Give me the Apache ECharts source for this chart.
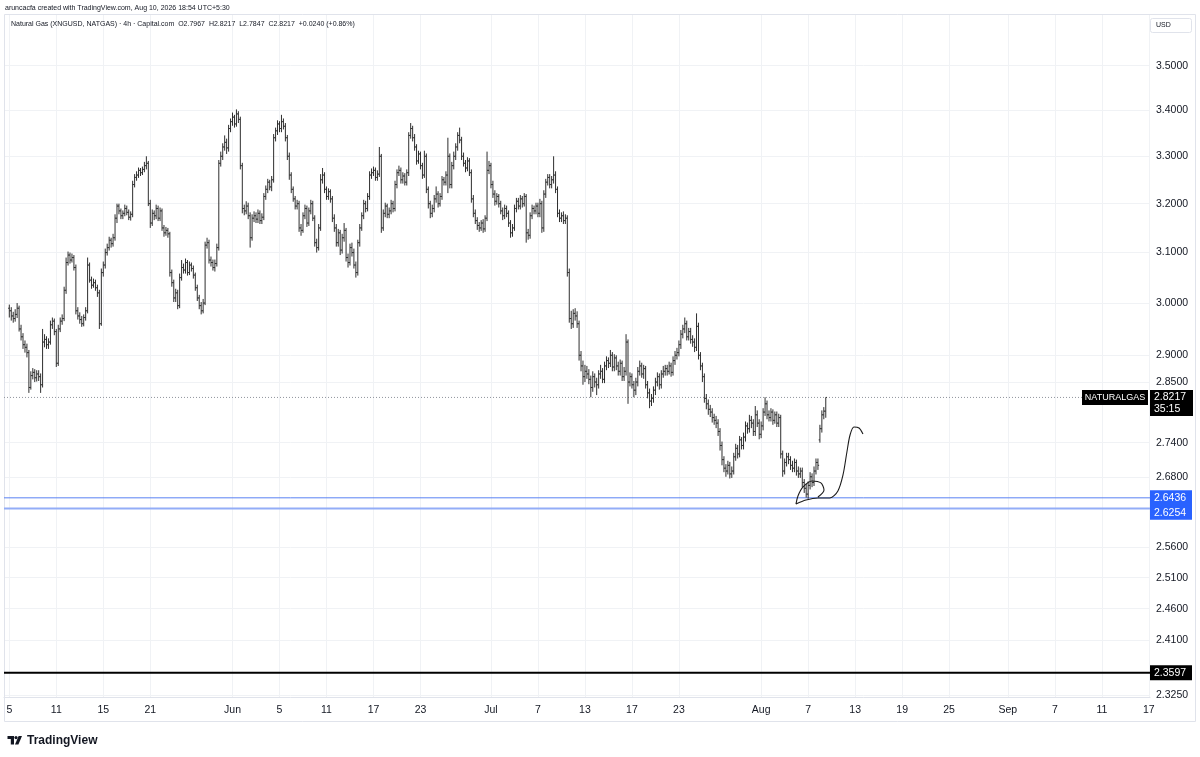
<!DOCTYPE html>
<html><head><meta charset="utf-8">
<script src="https://cdn.jsdelivr.net/npm/echarts@6/dist/echarts.min.js"></script>
<style>html,body{margin:0;padding:0;background:#fff}#c{width:1200px;height:757px}</style>
</head><body><div id="c"></div>
<script>
// ---- data (4h bars, Capital.com NATGAS) ----
const opens = [
2.990,2.985,2.975,2.970,2.978, 2.990,2.950,2.935,2.920,2.915, 2.905,2.840,2.862,2.868,2.858, 2.865,2.860,2.845,2.925,2.930,
2.920,2.925,2.958,2.965,2.945, 2.885,2.950,2.965,2.970,3.025, 3.080,3.095,3.085,3.090,3.070, 2.985,2.975,2.968,2.960,2.972,
2.985,3.075,3.045,3.035,3.040, 3.030,3.020,2.960,3.060,3.075, 3.100,3.110,3.125,3.118,3.130, 3.170,3.195,3.185,3.175,3.180,
3.190,3.182,3.172,3.178,3.240, 3.255,3.260,3.270,3.265,3.272, 3.280,3.285,3.200,3.160,3.180, 3.175,3.190,3.170,3.185,3.150,
3.140,3.145,3.138,3.060,3.040, 3.010,3.020,2.995,3.050,3.070, 3.065,3.080,3.060,3.075,3.068, 3.055,3.030,3.010,2.995,2.985,
3.000,3.115,3.120,3.085,3.080, 3.070,3.078,3.110,3.285,3.300, 3.320,3.330,3.318,3.360,3.375, 3.385,3.370,3.392,3.380,3.280,
3.190,3.185,3.195,3.175,3.130, 3.170,3.175,3.168,3.180,3.165, 3.172,3.215,3.230,3.245,3.235, 3.250,3.340,3.355,3.370,3.360,
3.375,3.365,3.340,3.300,3.260, 3.230,3.210,3.195,3.200,3.150, 3.145,3.175,3.190,3.160,3.185, 3.200,3.170,3.120,3.110,3.150,
3.250,3.260,3.230,3.215,3.225, 3.210,3.170,3.150,3.120,3.140, 3.105,3.130,3.145,3.090,3.080, 3.110,3.100,3.075,3.060,3.120,
3.150,3.175,3.200,3.190,3.215, 3.260,3.265,3.270,3.255,3.262, 3.300,3.150,3.180,3.195,3.178, 3.185,3.200,3.190,3.240,3.265,
3.270,3.250,3.258,3.245,3.265, 3.345,3.360,3.340,3.320,3.290, 3.305,3.280,3.260,3.300,3.230, 3.200,3.180,3.190,3.210,3.220,
3.200,3.215,3.250,3.245,3.260, 3.300,3.240,3.280,3.300,3.320, 3.345,3.335,3.300,3.285,3.275, 3.290,3.265,3.210,3.180,3.165,
3.155,3.150,3.160,3.148,3.170, 3.270,3.280,3.240,3.220,3.205, 3.215,3.200,3.185,3.175,3.190, 3.180,3.160,3.140,3.150,3.190,
3.205,3.195,3.210,3.200,3.215, 3.140,3.135,3.175,3.190,3.185, 3.195,3.180,3.200,3.150,3.220, 3.245,3.255,3.240,3.250,3.260,
3.230,3.180,3.170,3.175,3.165, 3.170,3.060,2.970,2.960,2.980, 2.975,2.960,2.900,2.880,2.860, 2.870,2.865,2.855,2.840,2.860,
2.850,2.845,2.865,2.870,2.855, 2.880,2.890,2.885,2.900,2.878, 2.895,2.880,2.870,2.885,2.860, 2.870,2.925,2.850,2.860,2.845,
2.835,2.850,2.870,2.880,2.865, 2.875,2.845,2.830,2.815,2.820, 2.835,2.850,2.860,2.845,2.865, 2.870,2.875,2.870,2.880,2.868,
2.890,2.900,2.905,2.920,2.940, 2.950,2.960,2.935,2.945,2.930, 2.925,2.915,2.955,2.900,2.880, 2.860,2.820,2.810,2.800,2.795,
2.785,2.780,2.775,2.760,2.735, 2.710,2.695,2.690,2.700,2.685, 2.690,2.715,2.730,2.720,2.745, 2.735,2.750,2.770,2.765,2.780,
2.775,2.760,2.790,2.775,2.755, 2.770,2.795,2.810,2.790,2.785, 2.795,2.780,2.790,2.775,2.785, 2.720,2.690,2.705,2.715,2.710,
2.700,2.695,2.705,2.690,2.685, 2.690,2.670,2.660,2.650,2.665, 2.680,2.670,2.690,2.705,2.745, 2.765,2.790,2.7967
];
const highs = [
2.997,2.992,2.983,2.988,3.000, 2.995,2.958,2.942,2.928,2.922, 2.910,2.870,2.876,2.874,2.872, 2.872,2.866,2.950,2.940,2.936,
2.932,2.966,2.972,2.970,2.950, 2.958,2.972,2.978,3.032,3.090, 3.102,3.100,3.098,3.095,3.076, 2.992,2.982,2.975,2.978,2.992,
3.090,3.080,3.052,3.048,3.046, 3.036,3.026,3.068,3.082,3.108, 3.118,3.132,3.130,3.138,3.178, 3.200,3.200,3.190,3.186,3.198,
3.196,3.188,3.184,3.248,3.262, 3.268,3.276,3.275,3.278,3.288, 3.300,3.290,3.208,3.188,3.186, 3.198,3.196,3.192,3.190,3.156,
3.152,3.150,3.142,3.066,3.046, 3.028,3.026,3.058,3.085,3.078, 3.088,3.085,3.082,3.080,3.074, 3.060,3.036,3.016,3.002,3.008,
3.122,3.130,3.126,3.092,3.086, 3.086,3.118,3.292,3.310,3.328, 3.345,3.338,3.368,3.382,3.395, 3.390,3.402,3.398,3.386,3.286,
3.198,3.205,3.202,3.182,3.178, 3.184,3.182,3.188,3.186,3.180, 3.222,3.238,3.252,3.250,3.258, 3.348,3.362,3.378,3.376,3.390,
3.382,3.372,3.346,3.308,3.266, 3.236,3.216,3.208,3.206,3.158, 3.182,3.198,3.196,3.192,3.208, 3.206,3.176,3.128,3.158,3.262,
3.275,3.266,3.236,3.232,3.230, 3.216,3.178,3.158,3.148,3.146, 3.138,3.160,3.150,3.098,3.118, 3.120,3.108,3.082,3.126,3.158,
3.182,3.208,3.206,3.222,3.268, 3.274,3.278,3.276,3.270,3.320, 3.305,3.188,3.202,3.200,3.192, 3.208,3.206,3.248,3.272,3.280,
3.276,3.266,3.264,3.272,3.352, 3.372,3.366,3.348,3.326,3.312, 3.310,3.286,3.312,3.306,3.236, 3.206,3.198,3.218,3.236,3.226,
3.222,3.258,3.256,3.268,3.340, 3.306,3.288,3.310,3.328,3.352, 3.362,3.342,3.308,3.292,3.298, 3.296,3.272,3.218,3.188,3.172,
3.162,3.166,3.168,3.176,3.310, 3.290,3.286,3.248,3.228,3.222, 3.220,3.206,3.192,3.198,3.196, 3.186,3.166,3.158,3.198,3.212,
3.212,3.218,3.216,3.222,3.220, 3.148,3.182,3.198,3.196,3.202, 3.202,3.210,3.206,3.228,3.252, 3.262,3.262,3.258,3.300,3.268,
3.236,3.188,3.182,3.184,3.178, 3.176,3.068,2.985,2.988,2.990, 2.984,2.966,2.908,2.890,2.882, 2.880,2.874,2.862,2.870,2.866,
2.858,2.872,2.882,2.876,2.888, 2.898,2.896,2.910,2.906,2.902, 2.900,2.888,2.892,2.890,2.878, 2.940,2.930,2.868,2.866,2.852,
2.858,2.878,2.890,2.886,2.882, 2.880,2.852,2.838,2.828,2.842, 2.858,2.868,2.866,2.872,2.880, 2.882,2.882,2.888,2.886,2.898,
2.908,2.914,2.928,2.948,2.958, 2.972,2.966,2.952,2.952,2.938, 2.932,2.980,2.962,2.906,2.886, 2.866,2.828,2.818,2.808,2.802,
2.792,2.788,2.782,2.766,2.742, 2.716,2.702,2.708,2.706,2.698, 2.722,2.738,2.736,2.752,2.750, 2.758,2.778,2.776,2.790,2.788,
2.782,2.806,2.798,2.782,2.778, 2.802,2.822,2.816,2.798,2.802, 2.800,2.796,2.796,2.792,2.790, 2.726,2.712,2.722,2.722,2.716,
2.708,2.712,2.710,2.698,2.696, 2.696,2.676,2.668,2.672,2.688, 2.686,2.698,2.712,2.712,2.772, 2.798,2.804,2.8217
];
const lows = [
2.972,2.966,2.962,2.964,2.971, 2.945,2.928,2.912,2.905,2.896, 2.830,2.836,2.855,2.850,2.851, 2.852,2.830,2.840,2.915,2.912,
2.912,2.920,2.950,2.938,2.878, 2.880,2.944,2.958,2.965,3.018, 3.074,3.078,3.080,3.064,2.978, 2.968,2.960,2.954,2.955,2.966,
2.980,3.040,3.028,3.030,3.024, 3.012,2.950,2.956,3.052,3.068, 3.094,3.104,3.110,3.112,3.124, 3.160,3.178,3.168,3.168,3.174,
3.176,3.166,3.165,3.172,3.234, 3.248,3.254,3.258,3.260,3.266, 3.272,3.195,3.150,3.154,3.166, 3.168,3.164,3.164,3.144,3.132,
3.134,3.130,3.052,3.032,3.002, 3.002,2.988,2.990,3.044,3.058, 3.058,3.054,3.055,3.062,3.048, 3.024,3.004,2.988,2.978,2.980,
2.996,3.108,3.078,3.072,3.064, 3.062,3.072,3.104,3.278,3.292, 3.312,3.305,3.310,3.352,3.366, 3.362,3.364,3.372,3.272,3.180,
3.176,3.178,3.168,3.110,3.124, 3.162,3.160,3.160,3.158,3.158, 3.166,3.208,3.222,3.228,3.226, 3.244,3.332,3.346,3.352,3.352,
3.358,3.332,3.292,3.250,3.222, 3.204,3.188,3.188,3.142,3.134, 3.140,3.168,3.152,3.154,3.178, 3.164,3.112,3.100,3.104,3.144,
3.242,3.222,3.208,3.208,3.202, 3.162,3.142,3.112,3.112,3.095, 3.098,3.122,3.082,3.070,3.074, 3.092,3.068,3.050,3.054,3.112,
3.144,3.168,3.182,3.184,3.208, 3.252,3.258,3.248,3.248,3.256, 3.140,3.144,3.172,3.170,3.170, 3.178,3.182,3.184,3.232,3.258,
3.242,3.242,3.238,3.238,3.258, 3.338,3.332,3.312,3.282,3.284, 3.272,3.252,3.254,3.222,3.190, 3.170,3.172,3.182,3.202,3.192,
3.194,3.208,3.238,3.238,3.222, 3.232,3.232,3.272,3.292,3.312, 3.328,3.292,3.278,3.266,3.268, 3.258,3.202,3.172,3.158,3.146,
3.142,3.144,3.140,3.142,3.164, 3.262,3.232,3.212,3.196,3.198, 3.192,3.178,3.166,3.168,3.172, 3.152,3.130,3.132,3.144,3.182,
3.188,3.188,3.192,3.194,3.120, 3.126,3.128,3.168,3.178,3.178, 3.172,3.172,3.140,3.142,3.212, 3.238,3.232,3.232,3.242,3.222,
3.172,3.162,3.162,3.158,3.158, 3.052,2.962,2.950,2.952,2.966, 2.952,2.890,2.870,2.845,2.850, 2.856,2.846,2.822,2.832,2.840,
2.826,2.838,2.856,2.848,2.848, 2.872,2.876,2.878,2.870,2.870, 2.872,2.862,2.862,2.852,2.852, 2.862,2.810,2.842,2.838,2.822,
2.826,2.842,2.862,2.858,2.856, 2.838,2.820,2.802,2.806,2.812, 2.826,2.842,2.836,2.838,2.858, 2.862,2.862,2.864,2.860,2.862,
2.882,2.892,2.898,2.912,2.932, 2.942,2.928,2.928,2.922,2.916, 2.906,2.908,2.892,2.872,2.850, 2.812,2.800,2.790,2.786,2.776,
2.772,2.766,2.752,2.726,2.700, 2.688,2.680,2.684,2.677,2.678, 2.684,2.708,2.712,2.714,2.728, 2.728,2.742,2.756,2.758,2.766,
2.752,2.752,2.768,2.746,2.748, 2.762,2.788,2.782,2.778,2.778, 2.772,2.774,2.768,2.768,2.712, 2.680,2.684,2.698,2.702,2.692,
2.688,2.688,2.682,2.678,2.678, 2.662,2.652,2.644,2.642,2.658, 2.662,2.664,2.684,2.692,2.740, 2.758,2.782,2.7847
];
const closes = [
2.985,2.975,2.970,2.978,2.990, 2.950,2.935,2.920,2.915,2.905, 2.840,2.862,2.868,2.858,2.865, 2.860,2.845,2.925,2.930,2.920,
2.925,2.958,2.965,2.945,2.885, 2.950,2.965,2.970,3.025,3.080, 3.095,3.085,3.090,3.070,2.985, 2.975,2.968,2.960,2.972,2.985,
3.075,3.045,3.035,3.040,3.030, 3.020,2.960,3.060,3.075,3.100, 3.110,3.125,3.118,3.130,3.170, 3.195,3.185,3.175,3.180,3.190,
3.182,3.172,3.178,3.240,3.255, 3.260,3.270,3.265,3.272,3.280, 3.285,3.200,3.160,3.180,3.175, 3.190,3.170,3.185,3.150,3.140,
3.145,3.138,3.060,3.040,3.010, 3.020,2.995,3.050,3.070,3.065, 3.080,3.060,3.075,3.068,3.055, 3.030,3.010,2.995,2.985,3.000,
3.115,3.120,3.085,3.080,3.070, 3.078,3.110,3.285,3.300,3.320, 3.330,3.318,3.360,3.375,3.385, 3.370,3.392,3.380,3.280,3.190,
3.185,3.195,3.175,3.130,3.170, 3.175,3.168,3.180,3.165,3.172, 3.215,3.230,3.245,3.235,3.250, 3.340,3.355,3.370,3.360,3.375,
3.365,3.340,3.300,3.260,3.230, 3.210,3.195,3.200,3.150,3.145, 3.175,3.190,3.160,3.185,3.200, 3.170,3.120,3.110,3.150,3.250,
3.260,3.230,3.215,3.225,3.210, 3.170,3.150,3.120,3.140,3.105, 3.130,3.145,3.090,3.080,3.110, 3.100,3.075,3.060,3.120,3.150,
3.175,3.200,3.190,3.215,3.260, 3.265,3.270,3.255,3.262,3.300, 3.150,3.180,3.195,3.178,3.185, 3.200,3.190,3.240,3.265,3.270,
3.250,3.258,3.245,3.265,3.345, 3.360,3.340,3.320,3.290,3.305, 3.280,3.260,3.300,3.230,3.200, 3.180,3.190,3.210,3.220,3.200,
3.215,3.250,3.245,3.260,3.300, 3.240,3.280,3.300,3.320,3.345, 3.335,3.300,3.285,3.275,3.290, 3.265,3.210,3.180,3.165,3.155,
3.150,3.160,3.148,3.170,3.270, 3.280,3.240,3.220,3.205,3.215, 3.200,3.185,3.175,3.190,3.180, 3.160,3.140,3.150,3.190,3.205,
3.195,3.210,3.200,3.215,3.140, 3.135,3.175,3.190,3.185,3.195, 3.180,3.200,3.150,3.220,3.245, 3.255,3.240,3.250,3.260,3.230,
3.180,3.170,3.175,3.165,3.170, 3.060,2.970,2.960,2.980,2.975, 2.960,2.900,2.880,2.860,2.870, 2.865,2.855,2.840,2.860,2.850,
2.845,2.865,2.870,2.855,2.880, 2.890,2.885,2.900,2.878,2.895, 2.880,2.870,2.885,2.860,2.870, 2.925,2.850,2.860,2.845,2.835,
2.850,2.870,2.880,2.865,2.875, 2.845,2.830,2.815,2.820,2.835, 2.850,2.860,2.845,2.865,2.870, 2.875,2.870,2.880,2.868,2.890,
2.900,2.905,2.920,2.940,2.950, 2.960,2.935,2.945,2.930,2.925, 2.915,2.955,2.900,2.880,2.860, 2.820,2.810,2.800,2.795,2.785,
2.780,2.775,2.760,2.735,2.710, 2.695,2.690,2.700,2.685,2.690, 2.715,2.730,2.720,2.745,2.735, 2.750,2.770,2.765,2.780,2.775,
2.760,2.790,2.775,2.755,2.770, 2.795,2.810,2.790,2.785,2.795, 2.780,2.790,2.775,2.785,2.720, 2.690,2.705,2.715,2.710,2.700,
2.695,2.705,2.690,2.685,2.690, 2.670,2.660,2.650,2.665,2.680, 2.670,2.690,2.705,2.700,2.765, 2.790,2.7967,2.8217
];
const startDate = '2026-05-05';
const barsPerDay = 6;
const tickDates = ['2026-05-05','2026-05-11','2026-05-15','2026-05-21','2026-06-01','2026-06-05','2026-06-11','2026-06-17','2026-06-23',
  '2026-07-01','2026-07-07','2026-07-13','2026-07-17','2026-07-23','2026-08-03','2026-08-07','2026-08-13','2026-08-19','2026-08-25',
  '2026-09-01','2026-09-07','2026-09-11','2026-09-17'];
const tickLabels = ['5','11','15','21','Jun','5','11','17','23','Jul','7','13','17','23','Aug','7','13','19','25','Sep','7','11','17'];
const priceTicks = [3.5,3.4,3.3,3.2,3.1,3.0,2.9,2.85,2.74,2.68,2.56,2.51,2.46,2.41,2.325];
const lastPrice = 2.8217;
const supportLevels = [2.6436, 2.6254];
const baseLevel = 2.3597;
// hand-drawn annotation (bar index, price)
const annoX = [413.0,416.1,414.5,410.0,405.4,402.8,401.8,406.9,413.0,419.1,423.2,425.8,427.8,429.4,431.4,434.0,436.0];
const annoY = [2.6451,2.6571,2.6693,2.6727,2.6623,2.6468,2.6331,2.6399,2.6434,2.6434,2.6555,2.6831,2.7235,2.7537,2.7681,2.7663,2.7555];

// ---- helpers ----
function tradingDayIndex(dateStr){
  const d0 = new Date(startDate+'T00:00:00Z'), d1 = new Date(dateStr+'T00:00:00Z');
  let n = 0;
  for (let t = new Date(d0); t < d1; t.setUTCDate(t.getUTCDate()+1)) { const w = t.getUTCDay(); if (w !== 0 && w !== 6) n++; }
  return n;
}
const tickIdx = tickDates.map(d => tradingDayIndex(d) * barsPerDay);
const FONT = '"Liberation Sans", Arial, sans-serif';
const TXT = '#131722';
const GRIDC = '#f0f2f5';
const X_MIN = -2.71, X_MAX = 582.6;

const chart = echarts.init(document.getElementById('c'), null, {renderer:'canvas'});
const ohlcData = closes.map((c,i) => [i, Math.log(opens[i]), Math.log(highs[i]), Math.log(lows[i]), Math.log(c)]);

function levelSeries(price, color, width, type){
  return {type: 'line', silent: true, showSymbol: false, symbol: 'none', z: 3,
    data: [[X_MIN, Math.log(price)], [X_MAX, Math.log(price)]],
    lineStyle: {color: color, width: width, type: type}};
}

const option = {
  animation: false,
  backgroundColor: '#ffffff',
  grid: {left: 4, top: 14, width: 1146, height: 683, containLabel: false},
  xAxis: {
    type: 'value', min: X_MIN, max: X_MAX,
    axisLine: {show: true, lineStyle: {color: '#e0e3eb'}},
    axisTick: {show: false, customValues: tickIdx},
    splitLine: {show: true, lineStyle: {color: GRIDC, width: 1}},
    axisLabel: {
      customValues: tickIdx, margin: 8, color: TXT, fontSize: 10.5, fontFamily: FONT, hideOverlap: false,
      formatter: v => { const k = tickIdx.findIndex(t => Math.abs(t - v) < 0.01); return k >= 0 ? tickLabels[k] : ''; }
    }
  },
  yAxis: {
    type: 'value', position: 'right', min: Math.log(2.3229), max: Math.log(3.6194), scale: true,
    axisLine: {show: false},
    axisTick: {show: false, customValues: priceTicks.map(Math.log)},
    splitLine: {show: true, lineStyle: {color: GRIDC, width: 1}},
    axisLabel: {
      customValues: priceTicks.map(Math.log), margin: 6, align: 'left', color: TXT, fontSize: 10.5, fontFamily: FONT,
      formatter: v => Math.exp(v).toFixed(4)
    }
  },
  series: [
    {
      type: 'custom', clip: true, silent: true, z: 4,
      data: ohlcData,
      encode: {x: 0, y: [1,2,3,4]},
      renderItem: function(params, api){
        const x = api.value(0);
        const pH = api.coord([x, api.value(2)]), pL = api.coord([x, api.value(3)]);
        const pO = api.coord([x, api.value(1)]), pC = api.coord([x, api.value(4)]);
        const w = 1.2, st = {stroke: '#2e2e2e', lineWidth: 1};
        return {type: 'group', children: [
          {type: 'line', shape: {x1: pH[0], y1: pH[1], x2: pL[0], y2: pL[1]}, style: st},
          {type: 'line', shape: {x1: pO[0]-w, y1: pO[1], x2: pO[0], y2: pO[1]}, style: st},
          {type: 'line', shape: {x1: pC[0], y1: pC[1], x2: pC[0]+w, y2: pC[1]}, style: st}
        ]};
      }
    },
    levelSeries(lastPrice, '#8f939c', 1, [1,2]),
    levelSeries(supportLevels[0], '#5a82f4', 1, 'solid'),
    levelSeries(supportLevels[1], '#93adf7', 2, 'solid'),
    levelSeries(baseLevel, '#000000', 2, 'solid'),
    {
      type: 'line', silent: true, smooth: 0.3, showSymbol: false, symbol: 'none', z: 5,
      data: annoX.map((x,i) => [x, Math.log(annoY[i])]),
      lineStyle: {color: '#1c1c1c', width: 1.1}
    }
  ]
};
chart.setOption(option);

const yOf = v => chart.convertToPixel({yAxisIndex: 0}, Math.log(v));
const AX = 1150;
const yl = yOf(lastPrice);
const ys1 = yOf(supportLevels[0]);
const ys2 = Math.max(yOf(supportLevels[1]), ys1 + 14.5);
const yb = yOf(baseLevel);
const lbl = (text, x, y, fill, size, weight, align) => ({type: 'text', x: x, y: y, silent: true, z: 10,
  style: {text: text, fill: fill, fontSize: size, fontFamily: FONT, fontWeight: weight || 'normal', align: align || 'left', verticalAlign: 'middle'}});

const graphics = [
  {type: 'rect', silent: true, shape: {x: 4.5, y: 14.5, width: 1191, height: 707}, style: {fill: 'none', stroke: '#e0e3eb', lineWidth: 1}},
  lbl('aruncacfa created with TradingView.com, Aug 10, 2026 18:54 UTC+5:30', 5, 8, TXT, 7),
  lbl('Natural Gas (XNGUSD, NATGAS) \u00b7 4h \u00b7 Capital.com  O2.7967  H2.8217  L2.7847  C2.8217  +0.0240 (+0.86%)', 11, 24.5, TXT, 7),
  {type: 'rect', silent: true, z: 9, shape: {x: 1150.5, y: 18.5, width: 41, height: 14, r: 2}, style: {fill: '#fff', stroke: '#e0e3eb', lineWidth: 1}},
  lbl('USD', 1156, 25.5, TXT, 7),
  // current price tags
  {type: 'rect', silent: true, z: 9, shape: {x: 1082, y: yl - 7.5, width: 66, height: 15}, style: {fill: '#000'}},
  lbl('NATURALGAS', 1115, yl + 0.5, '#fff', 9, 'normal', 'center'),
  {type: 'rect', silent: true, z: 9, shape: {x: AX, y: yl - 7.5, width: 43, height: 26}, style: {fill: '#000'}},
  lbl(lastPrice.toFixed(4), AX + 4, yl, '#fff', 10.5),
  lbl('35:15', AX + 4, yl + 11.5, '#fff', 10.5),
  // support tags
  {type: 'rect', silent: true, z: 9, shape: {x: AX, y: ys1 - 7.5, width: 42, height: (ys2 - ys1) + 15}, style: {fill: '#2962ff'}},
  lbl(supportLevels[0].toFixed(4), AX + 4, ys1 + 0.5, '#fff', 10.5),
  lbl(supportLevels[1].toFixed(4), AX + 4, ys2 + 0.5, '#fff', 10.5),
  // base level tag
  {type: 'rect', silent: true, z: 9, shape: {x: AX, y: yb - 7.5, width: 42, height: 15}, style: {fill: '#000'}},
  lbl(baseLevel.toFixed(4), AX + 4, yb + 0.5, '#fff', 10.5),
  // TradingView logo
  {type: 'rect', silent: true, shape: {x: 7.5, y: 736, width: 6.5, height: 3}, style: {fill: TXT}},
  {type: 'rect', silent: true, shape: {x: 10.8, y: 736, width: 3.2, height: 8.5}, style: {fill: TXT}},
  {type: 'circle', silent: true, shape: {cx: 16, cy: 737.6, r: 1.6}, style: {fill: TXT}},
  {type: 'polygon', silent: true, shape: {points: [[18.6,736],[22,736],[18.4,744.5],[15,744.5]]}, style: {fill: TXT}},
  lbl('TradingView', 27, 740.5, TXT, 12, 'bold')
];
chart.setOption({graphic: graphics});
</script>
</body></html>
